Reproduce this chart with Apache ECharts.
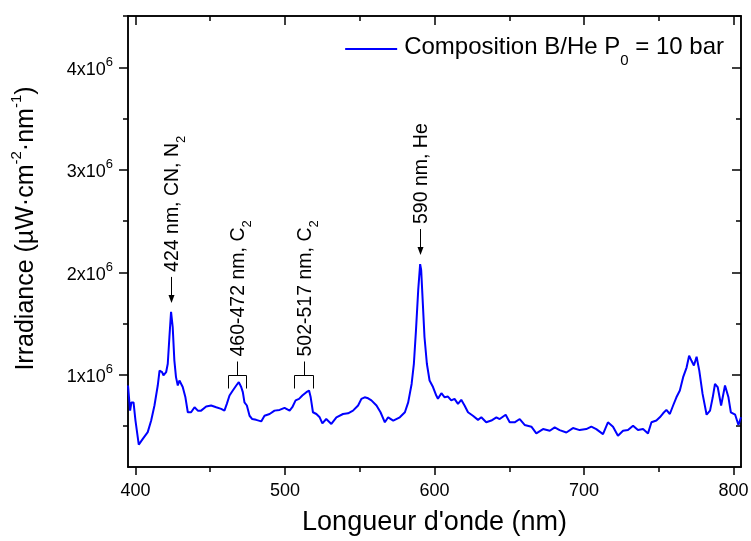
<!DOCTYPE html>
<html>
<head>
<meta charset="utf-8">
<script src="https://cdn.jsdelivr.net/npm/echarts@6/dist/echarts.min.js"></script>
<style>
html,body{margin:0;padding:0;background:#fff;}
#chart{width:751px;height:541px;}
</style>
</head>
<body>
<div id="chart"></div>
<script>
const wavelength = [395,396.4,397.3,398.7,400.0,402.2,404.9,408.2,410.5,412.7,414.9,416.1,417.8,418.7,420.5,421.6,422.7,423.8,424.9,426.0,427.1,428.3,429.4,430.5,431.6,433.4,435.0,437.2,439.5,441.7,443.9,447.3,450.6,454.0,457.3,459.5,461.1,462.9,465.1,467.4,469.1,470.7,471.8,472.9,474.5,476.3,478.1,480.7,484.1,486.3,489.7,493.0,496.4,499.7,503.1,504.9,507.1,509.4,511.6,514.3,516.1,517.2,518.7,521.0,523.2,525.0,527.6,531.0,534.4,538.8,542.2,545.5,548.9,551.1,553.3,555.6,557.8,561.2,563.9,566.8,569.0,572.4,576.8,580.2,582.4,584.7,586.2,587.6,589.1,590.4,591.1,592.2,593.3,594.9,596.7,599.0,601.2,602.3,604.6,606.8,609.0,611.2,613.4,615.7,617.9,620.1,622.4,625.7,629.1,631.3,634.6,638.0,641.4,643.6,647.6,650.3,653.6,657.0,660.3,664.8,668.1,672.6,677.1,680.4,683.7,688.2,692.6,697.1,701.5,704.9,708.2,712.7,716.0,719.4,722.7,726.1,729.4,732.8,736.1,739.5,742.8,745.1,748.4,750.7,752.9,755.1,757.4,759.6,761.8,764.1,766.3,768.6,770.3,771.9,773.5,775.3,777.1,779.3,782.0,784.3,786.1,787.6,789.4,791.7,794.3,796.6,798.2,801.1,803.3,805];
const irradiance = [8.95e5,6.5e5,7.3e5,7.3e5,5.53e5,3.18e5,3.74e5,4.4e5,5.53e5,7.0e5,8.95e5,1.04e6,1.025e6,9.93e5,1.025e6,1.107e6,1.368e6,1.613e6,1.466e6,1.14e6,9.77e5,8.95e5,9.44e5,9.6e5,8.8e5,7.8e5,6.34e5,6.34e5,6.83e5,6.5e5,6.5e5,6.9e5,7.0e5,6.83e5,6.67e5,6.5e5,7.16e5,7.97e5,8.46e5,8.95e5,9.28e5,8.8e5,8.3e5,7.3e5,7.0e5,6.0e5,5.68e5,5.6e5,5.45e5,6.0e5,6.17e5,6.5e5,6.57e5,6.77e5,6.5e5,6.83e5,7.5e5,7.65e5,7.97e5,8.3e5,8.46e5,7.8e5,6.34e5,6.17e5,5.85e5,5.26e5,5.68e5,5.2e5,5.85e5,6.17e5,6.24e5,6.5e5,7.0e5,7.65e5,7.8e5,7.7e5,7.5e5,7.0e5,6.34e5,5.36e5,5.85e5,5.53e5,5.85e5,6.34e5,7.3e5,9.1e5,1.107e6,1.43e6,1.825e6,2.08e6,2.02e6,1.694e6,1.368e6,1.107e6,9.44e5,8.8e5,7.97e5,7.65e5,8.2e5,7.8e5,7.87e5,7.5e5,7.65e5,7.16e5,7.55e5,7.0e5,6.34e5,6.0e5,5.6e5,5.85e5,5.36e5,5.53e5,5.85e5,5.68e5,6.1e5,5.36e5,5.36e5,5.68e5,5.1e5,4.93e5,4.28e5,4.7e5,4.54e5,4.86e5,4.6e5,4.37e5,4.8e5,4.6e5,4.7e5,4.93e5,4.7e5,4.21e5,5.36e5,4.93e5,4.05e5,4.54e5,4.6e5,5.03e5,4.6e5,4.7e5,4.28e5,5.36e5,5.53e5,5.85e5,6.24e5,6.57e5,6.17e5,7.0e5,7.8e5,8.46e5,9.76e5,1.07e6,1.185e6,1.136e6,1.09e6,1.175e6,1.04e6,8.13e5,6.1e5,6.5e5,7.8e5,9.1e5,8.8e5,7.0e5,8.95e5,7.8e5,6.34e5,6.1e5,5.1e5,5.85e5];
const xMajorTicks = [400,500,600,700,800];
const xMinorTicks = [450,550,650,750];
const yMajorTicks = [1e6,2e6,3e6,4e6];
const yMinorTicks = [5e5,1.5e6,2.5e6,3.5e6,4.5e6];
const seriesName = 'Composition B/He P0 = 10 bar';
// annotations: arrows point at the peak near annoArrowNm; brackets span a band
const annoArrowNm = [424, 590];
const annoArrowText = ['{m|424 nm, CN, N}{s|2}', '{m|590 nm, He}'];
const annoBracketStart = [462, 506];
const annoBracketEnd = [474, 519];
const annoBracketLevel = [1.0e6, 1.0e6];
const annoBracketText = ['{m|460-472 nm, C}{s|2}', '{m|502-517 nm, C}{s|2}'];

const FONT = '"Liberation Sans", Arial, sans-serif';
const chart = echarts.init(document.getElementById('chart'));
const axisLineStyle = {color:'#000', width:1.5};
const tickStyle = {color:'#000', width:1.5};

function peakNear(nm){
  let best = -Infinity;
  for (let i=0;i<wavelength.length;i++){
    if (Math.abs(wavelength[i]-nm) <= 2.5 && irradiance[i] > best) best = irradiance[i];
  }
  return best;
}
const annoRich = {
  m:{fontSize:19.5, fontFamily:FONT, color:'#000', lineHeight:21, verticalAlign:'top'},
  s:{fontSize:13, fontFamily:FONT, color:'#000', lineHeight:13, verticalAlign:'bottom', padding:[0,0,-4,0]}
};
const annoData = [];
annoArrowNm.forEach((nm,i)=>annoData.push({kind:'arrow', i:i, value:[nm, peakNear(nm)]}));
annoBracketStart.forEach((nm,i)=>annoData.push({kind:'bracket', i:i, value:[(nm+annoBracketEnd[i])/2, annoBracketLevel[i]]}));

function renderAnno(params, api){
  const d = annoData[params.dataIndex];
  const black = {stroke:'#000', lineWidth:1};
  if (d.kind === 'arrow'){
    const p = api.coord(d.value);
    const x = Math.round(p[0]) + 0.5;
    const tip = p[1] - 9;
    const top = tip - 26;
    return {type:'group', children:[
      {type:'line', shape:{x1:x, y1:top, x2:x, y2:tip-6}, style:black},
      {type:'polygon', shape:{points:[[x-3,tip-8],[x+3,tip-8],[x,tip]]}, style:{fill:'#000'}},
      {type:'text', x:x+2, y:top-5, rotation:Math.PI/2,
        style:{text:annoArrowText[d.i], rich:annoRich, align:'left', verticalAlign:'middle', fill:'#000'}}
    ]};
  } else {
    const i = d.i;
    const a = api.coord([annoBracketStart[i], annoBracketLevel[i]]);
    const b = api.coord([annoBracketEnd[i], annoBracketLevel[i]]);
    const y = Math.round(a[1]) + 0.5;
    const xa = Math.round(a[0]) + 0.5, xb = Math.round(b[0]) + 0.5;
    const xm = Math.round((a[0]+b[0])/2) + 0.5;
    return {type:'group', children:[
      {type:'line', shape:{x1:xa, y1:y, x2:xb, y2:y}, style:black},
      {type:'line', shape:{x1:xa, y1:y, x2:xa, y2:y+13}, style:black},
      {type:'line', shape:{x1:xb, y1:y, x2:xb, y2:y+13}, style:black},
      {type:'line', shape:{x1:xm, y1:y, x2:xm, y2:y-14}, style:black},
      {type:'text', x:xm+2, y:y-19, rotation:Math.PI/2,
        style:{text:annoBracketText[i], rich:annoRich, align:'left', verticalAlign:'middle', fill:'#000'}}
    ]};
  }
}

function xAx(pos, ticks, len, inside, extra){
  return Object.assign({
    type:'value', position:pos, min:395, max:805,
    axisLine:{show:true, onZero:false, lineStyle:axisLineStyle},
    axisTick:{show:true, inside:inside, length:len, customValues:ticks, lineStyle:tickStyle},
    axisLabel:{show:false},
    splitLine:{show:false}
  }, extra||{});
}
function yAx(pos, ticks, len, inside, extra){
  return Object.assign({
    type:'value', position:pos, min:1e5, max:4.5e6,
    axisLine:{show:true, onZero:false, lineStyle:axisLineStyle},
    axisTick:{show:true, inside:inside, length:len, customValues:ticks, lineStyle:tickStyle},
    axisLabel:{show:false},
    splitLine:{show:false}
  }, extra||{});
}

const option = {
  animation:false,
  backgroundColor:'#fff',
  textStyle:{fontFamily:FONT, color:'#000'},
  grid:{left:128, right:10, top:16, bottom:74, containLabel:false, outerBoundsMode:'none'},
  legend:{
    show:true, right:22, top:30, itemWidth:52, itemHeight:2, itemGap:5,
    icon:'rect',
    data:[seriesName],
    formatter:()=>'{a|Composition B/He P}{b|0}{a| = 10 bar}',
    textStyle:{padding:[0,0,0,2], rich:{
      a:{fontSize:24, fontFamily:FONT, color:'#000', lineHeight:28, verticalAlign:'top'},
      b:{fontSize:15, fontFamily:FONT, color:'#000', lineHeight:15, verticalAlign:'bottom', padding:[0,0,-5,0]}
    }}
  },
  xAxis:[
    xAx('bottom', xMajorTicks, 8, false, {
      axisLabel:{show:true, customValues:xMajorTicks, margin:15, fontSize:18, fontFamily:FONT, color:'#000'},
      name:"Longueur d'onde (nm)", nameLocation:'middle', nameGap:42,
      nameTextStyle:{fontSize:27, fontFamily:FONT, color:'#000'}
    }),
    xAx('bottom', xMinorTicks, 5, false),
    xAx('top', xMajorTicks, 9, true),
    xAx('top', xMinorTicks, 5, true)
  ],
  yAxis:[
    yAx('left', yMajorTicks, 9, false, {
      axisLabel:{show:true, customValues:yMajorTicks, margin:15,
        formatter:(v)=>'{n|'+Math.round(v/1e6)+'x10}{s|6}',
        rich:{
          n:{fontSize:18, fontFamily:FONT, color:'#000', lineHeight:23, verticalAlign:'bottom'},
          s:{fontSize:13, fontFamily:FONT, color:'#000', lineHeight:13, verticalAlign:'top'}
        }},
      name:'{t|Irradiance (µW·cm}{p|-2}{t|·nm}{p|-1}{t|)}', nameLocation:'middle', nameGap:89, nameRotate:90,
      nameTextStyle:{padding:[0,0,0,26], rich:{
        t:{fontSize:25, fontFamily:FONT, color:'#000', lineHeight:30, verticalAlign:'bottom'},
        p:{fontSize:15, fontFamily:FONT, color:'#000', lineHeight:15, verticalAlign:'top'}
      }}
    }),
    yAx('left', yMinorTicks, 5, false),
    yAx('right', yMajorTicks, 9, true),
    yAx('right', yMinorTicks, 5, true)
  ],
  series:[
    {
      name:seriesName, type:'line', xAxisIndex:0, yAxisIndex:0,
      data:wavelength.map((w,i)=>[w, irradiance[i]]),
      showSymbol:false, symbol:'none', clip:true,
      lineStyle:{color:'#0000ff', width:2}, itemStyle:{color:'#0000ff'}
    },
    {
      type:'custom', xAxisIndex:0, yAxisIndex:0, clip:false, silent:true,
      renderItem:renderAnno,
      data:annoData.map(d=>d.value)
    }
  ]
};
chart.setOption(option);
</script>
</body>
</html>
